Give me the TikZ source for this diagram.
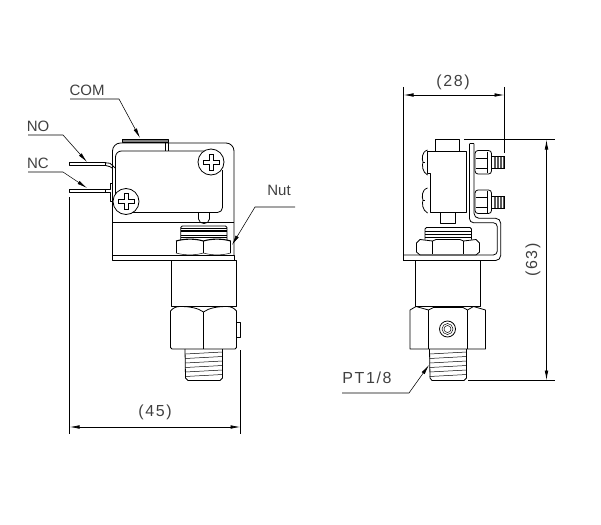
\documentclass[tikz,border=0pt]{standalone}
\usepackage{fontspec}
\setmainfont{Liberation Sans}
\newfontfamily\dimfont[LetterSpace=10]{Liberation Sans}
\usetikzlibrary{arrows.meta}
\tikzset{
  part/.style={line width=0.8pt, line join=round},
  fine/.style={line width=0.5pt},
  leader/.style={line width=0.55pt, -{Latex[length=10pt,width=3.6pt]}},
  dimline/.style={line width=0.75pt, {Latex[length=10pt,width=3.6pt]}-{Latex[length=10pt,width=3.6pt]}},
  extline/.style={line width=0.75pt},
  tag/.style={inner sep=0pt, text=black!75, font=\fontsize{15}{15}\selectfont},
  dimtag/.style={inner sep=0pt, text=black!75, font=\fontsize{16}{16}\dimfont},
  screw/.pic={
    \draw [part, fill=white] (0,0) circle (13);
    \draw [fine] (-2,-8) -- (2,-8) -- (2,-2) -- (8,-2) -- (8,2) -- (2,2) -- (2,8)
      -- (-2,8) -- (-2,2) -- (-8,2) -- (-8,-2) -- (-2,-2) -- cycle;
  },
}
\begin{document}
\begin{tikzpicture}[x=1pt, y=-1pt]
  \useasboundingbox (0,0) rectangle (601,524);

  % labels
  \node [tag] (com)  at (87,90)                  {COM};
  \node [tag] (no)   at (38,126)                 {NO};
  \node [tag] (nc)   at ([shift={(0,37)}] no)    {NC};
  \node [tag] (nut)  at (279,190)                {Nut};
  \node [dimtag] (w45) at (155,412)              {(45)};
  \node [dimtag] (w28) at (453,82)               {(28)};
  \node [dimtag, rotate=90] (h63) at (533,260)   {(63)};
  \node [dimtag] (pt)  at (367,378)              {PT1/8};

  % leaders
  \coordinate (comA) at (70,99);    \coordinate (comB) at (119,99);   \coordinate (comC) at (140,138);
  \coordinate (noA)  at (28,135);   \coordinate (noB)  at (63,135);   \coordinate (noC)  at (87,162);
  \coordinate (ncA)  at (28,172);   \coordinate (ncB)  at (63,172);   \coordinate (ncC)  at (87,188);
  \coordinate (nutA) at (295,207);  \coordinate (nutB) at (255,207);  \coordinate (nutC) at (232,245);
  \coordinate (ptA)  at (342,393);  \coordinate (ptB)  at (409,393);  \coordinate (ptC)  at (429,365);
  \draw [leader] (comA) to (comB) to (comC);
  \draw [leader] (noA)  to (noB)  to (noC);
  \draw [leader] (ncA)  to (ncB)  to (ncC);
  \draw [leader] (nutA) to (nutB) to (nutC);
  \draw [leader] (ptA)  to (ptB)  to (ptC);

  % dimensions
  \coordinate (e45a) at (69.5,197);   \coordinate (e45b) at (69.5,434);
  \coordinate (e45c) at (240.5,350);  \coordinate (e45d) at (240.5,434);
  \coordinate (d45a) at (69.5,427);   \coordinate (d45b) at (240.5,427);
  \draw [extline] (e45a) to (e45b);
  \draw [extline] (e45c) to (e45d);
  \draw [dimline] (d45a) to (d45b);
  \coordinate (e28a) at (403.5,87);   \coordinate (e28b) at (403.5,255);
  \coordinate (e28c) at (504.5,87);   \coordinate (e28d) at (504.5,153);
  \coordinate (d28a) at (403.5,95);   \coordinate (d28b) at (504.5,95);
  \draw [extline] (e28a) to (e28b);
  \draw [extline] (e28c) to (e28d);
  \draw [dimline] (d28a) to (d28b);
  \coordinate (e63a) at (464,139.5);  \coordinate (e63b) at (555,139.5);
  \coordinate (e63c) at (468,380.5);  \coordinate (e63d) at (555,380.5);
  \coordinate (d63a) at (546.5,139.5);\coordinate (d63b) at (546.5,380.5);
  \draw [extline] (e63a) to (e63b);
  \draw [extline] (e63c) to (e63d);
  \draw [dimline] (d63a) to (d63b);

  % front view, bracket and switch
  \draw [part, rounded corners=8pt] (112.5,255.5) -- (112.5,143) -- (234,143) -- (234,255.5);
  \draw [part] (112.5,222.5) -- (234,222.5);
  \draw [part] (112.5,255.5) rectangle (234,260.5);
  \draw [part, rounded corners=6pt] (115.5,205) -- (115.5,151) -- (205,151);
  \draw [part, rounded corners=5pt] (222.5,170) -- (222.5,212.5) -- (130,212.5);
  \draw [part] (198.5,212.5) -- (198.5,219) .. controls (199,225) and (209,225) .. (209.5,219) -- (209.5,212.5);
  \draw [part, fill=black!50] (122.5,139.5) rectangle (168.5,142.5);
  \draw [part] (165.5,142.5) -- (165.5,151);
  \draw [part] (168.5,142.5) -- (168.5,151);
  \draw [part] (69.5,162.7) rectangle (105,165.3);
  \draw [part] (105,162.7) -- (110,163.3) -- (115.5,168.3);
  \draw [part] (105,165.3) -- (110,166.7) -- (112.5,168.3);
  \draw [part] (112.5,183.5) -- (110,183.5) -- (110,189.3) -- (105,189.3);
  \draw [part] (69.5,189.3) rectangle (105,192.3);
  \draw [part] (105,192.3) -- (110,192.3) -- (110,201.7) -- (113,201.7);
  \pic at (211,162) {screw};
  \pic at (126,201.5) {screw};

  % front view, nut
  \draw [part, rounded corners=1.5pt] (180.7,240) -- (180.7,226) -- (227,226) -- (227,240);
  \foreach \y in {228,230,231.7,235.7,237.7}
    \draw [fine] (180.7,\y) -- (227,\y);
  \draw [part, line width=1.1pt] (176,241) .. controls (185,238.5) and (195,238.5) .. (203.3,241)
    .. controls (212,238.5) and (222,238.5) .. (230.7,241);
  \draw [part] (176,241) -- (176,253)  (230.7,241) -- (230.7,253);
  \draw [fine] (203.3,241) -- (203.3,253);
  \draw [fine] (176,253) .. controls (185,255.5) and (195,255.5) .. (203.3,253)
    .. controls (212,255.5) and (222,255.5) .. (230.7,253);

  % front view, body
  \draw [part] (171.5,260.5) rectangle (236.5,306.5);
  \draw [part] (170.5,311) .. controls (173,308) and (176,306.5) .. (180,306.5)
    .. controls (190,306.5) and (198,308) .. (203.5,312)
    .. controls (209,308) and (217,306.5) .. (227,306.5)
    .. controls (231,306.5) and (234,308) .. (236.5,311);
  \draw [part, rounded corners=1.5pt] (170.5,311) -- (170.5,349) -- (236.5,349) -- (236.5,311);
  \draw [part] (203.5,312) -- (203.5,349);
  \draw [part] (236.5,322) rectangle (240.5,337);
  \draw [part] (185,349) -- (185.5,378) -- (188,380.5) -- (220,380.5) -- (222.5,378) -- (222.5,349);
  \foreach \y in {353,357.5,...,378}
    \draw [fine] (185.3,\y+1) -- (222.5,\y-1);

  % side view, switch
  \draw [part] (430,173) -- (427.5,173) -- (427.5,151) -- (466.7,151) -- (466.7,212) -- (430,212) -- cycle;
  \draw [part] (435.7,151) -- (435.7,139.5) -- (459.3,139.5) -- (459.3,151);
  \draw [part] (440.7,212) -- (440.7,223.3) -- (455.7,223.3) -- (455.7,212);
  \foreach \y in {150,188} {
    \draw [part] (427.5,\y) .. controls (421,\y+2) and (422,\y+10) .. (423,\y+12)
      .. controls (422,\y+15) and (422,\y+22) .. (427.5,\y+25);
    \draw [fine] (423,\y+12) -- (425,\y+12);
  }

  % side view, bracket
  \draw [part, rounded corners=4pt] (469.5,143.5) -- (469.5,222.7) -- (497.3,222.7) -- (497.3,255) -- (403.5,255);
  \draw [part, rounded corners=5pt] (474,143.5) -- (474,218.3) -- (500.7,218.3) -- (500.7,260.5) -- (403.5,260.5);
  \draw [part] (469.5,143.5) -- (474,143.5)  (403.5,255) -- (403.5,260.5);

  % side view, terminals
  \foreach \y in {150.5,190} {
    \draw [part, rounded corners=3pt] (475,\y) -- (491.5,\y) -- (491.5,\y+23.5) -- (475,\y+23.5) -- cycle;
    \draw [fine] (476,\y+7.5) -- (487,\y+7.5)  (476,\y+17.5) -- (487,\y+17.5)  (487,\y+1) -- (487,\y+22.5);
    \foreach \x in {494,495.5,...,504}
      \draw [fine, black!65] (\x,\y+6) -- (\x,\y+18);
    \draw [fine] (491.5,\y+6) -- (504.5,\y+6) -- (504.5,\y+18) -- (491.5,\y+18);
  }

  % side view, nut
  \draw [part, rounded corners=1.5pt] (425,239.5) -- (425,227.5) -- (471.5,227.5) -- (471.5,239.5);
  \foreach \y in {231,234.5,237}
    \draw [fine] (425,\y) -- (471.5,\y);
  \draw [part] (416.5,243) -- (420,239.5) -- (432.5,241) -- (436,239.5) -- (460,239.5) -- (463.5,241) -- (476,239.5)
    -- (479.5,243) -- (479.5,252) -- (476,255) -- (420,255) -- (416.5,252) -- cycle;
  \draw [part] (432.5,241) -- (432.5,254)  (463.5,241) -- (463.5,254);

  % side view, body
  \draw [part] (415.5,260.5) rectangle (480.5,306.5);
  \draw [part] (410,310) -- (416,306.5) -- (428.5,310) -- (433.5,307.5) -- (463,307.5) -- (467.5,310) -- (473.5,306.5) -- (485.5,310)
    -- (485.5,349) -- (410,349) -- cycle;
  \draw [part] (428.5,310) -- (428.5,349)  (467.5,310) -- (467.5,349);
  \draw [part] (447.5,329) circle (8);
  \draw [fine] (447.5,329) circle (5.5);
  \draw [fine] (447.5,329) circle (3.5);
  \draw [part] (429.5,349) -- (430,378) -- (432,380.5) -- (464,380.5) -- (466.5,378) -- (466.5,349);
  \foreach \y in {353,357.5,...,378}
    \draw [fine] (429.7,\y+1) -- (466.5,\y-1);
\end{tikzpicture}
\end{document}
